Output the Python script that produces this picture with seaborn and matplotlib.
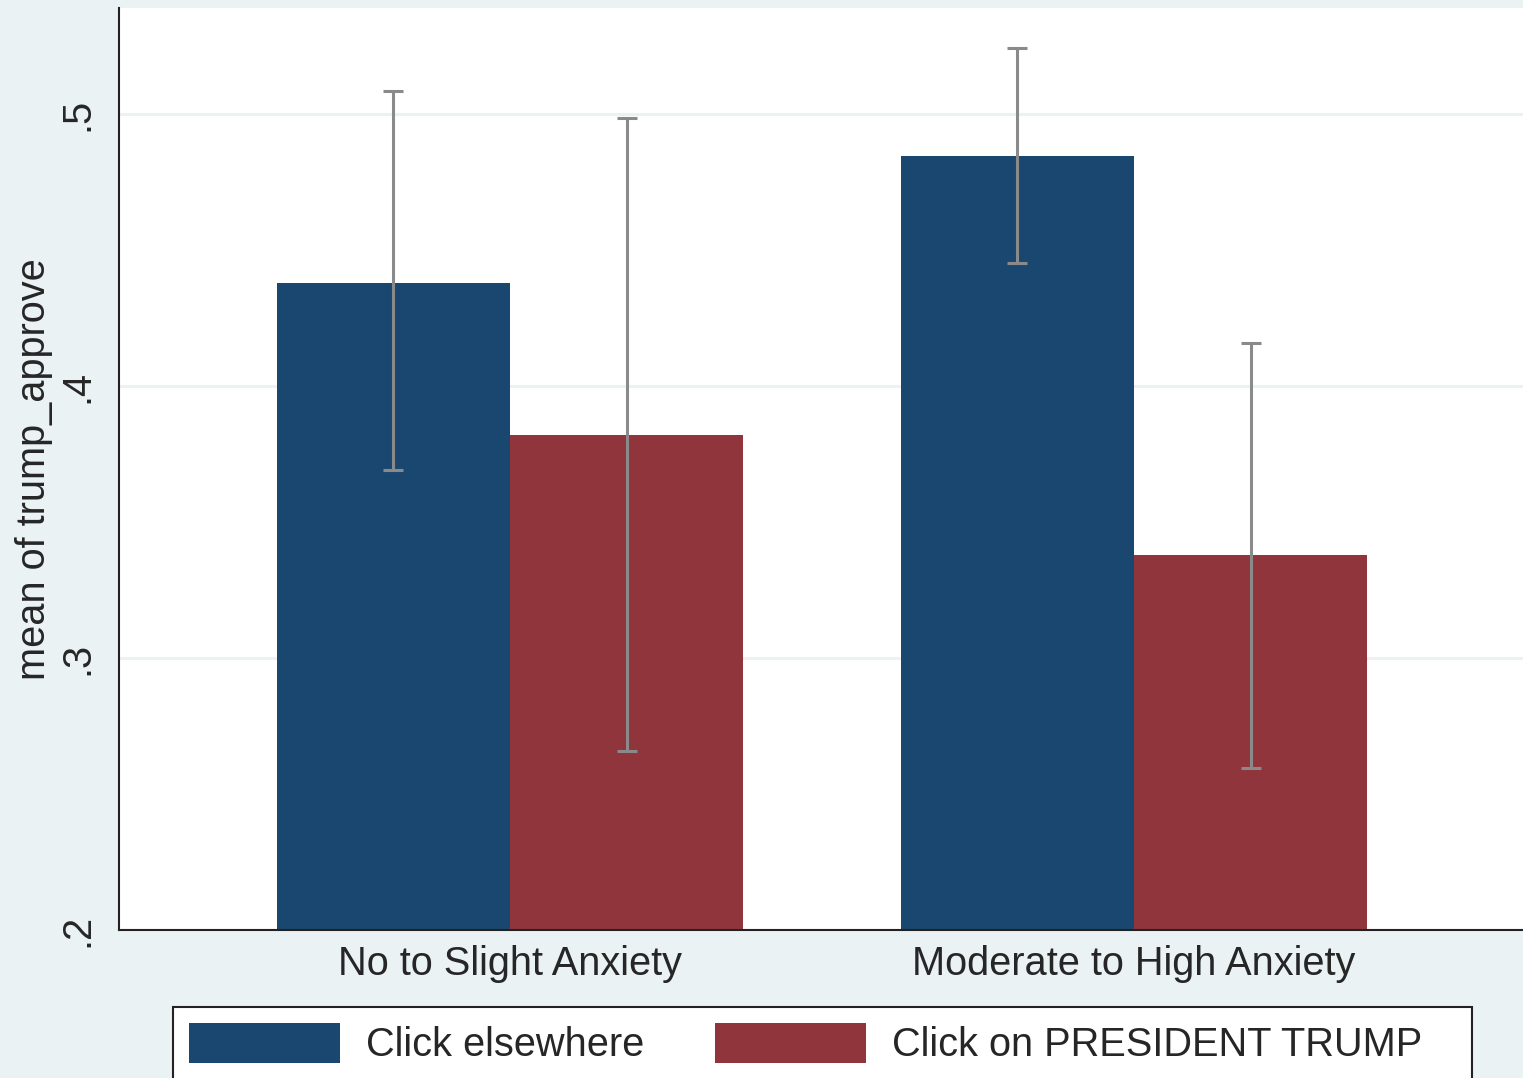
import matplotlib
matplotlib.use("Agg")
import matplotlib.pyplot as plt
from matplotlib.patches import Rectangle
import seaborn as sns
import pandas as pd

groups = ["No to Slight Anxiety", "Moderate to High Anxiety"]
conditions = ["Click elsewhere", "Click on PRESIDENT TRUMP"]
means_elsewhere = [0.438, 0.4845]
means_trump = [0.382, 0.338]
lo_elsewhere = [0.369, 0.4452]
hi_elsewhere = [0.5085, 0.5243]
lo_trump = [0.2658, 0.2596]
hi_trump = [0.4985, 0.4158]
yticks = [0.2, 0.3, 0.4, 0.5]
ytick_labels = [".2", ".3", ".4", ".5"]

rows = []
for i, g in enumerate(groups):
    rows.append(dict(group=g, condition=conditions[0], mean=means_elsewhere[i],
                     lo=lo_elsewhere[i], hi=hi_elsewhere[i]))
    rows.append(dict(group=g, condition=conditions[1], mean=means_trump[i],
                     lo=lo_trump[i], hi=hi_trump[i]))
df = pd.DataFrame(rows)

BG = "#EAF2F3"
BLUE = "#1A476F"
RED = "#90353B"
FONT = ["Liberation Sans", "DejaVu Sans"]

sns.set_style("white")
plt.rcParams["font.family"] = FONT

fig = plt.figure(figsize=(15.23, 10.78), dpi=100, facecolor=BG)
ax = fig.add_axes([119 / 1523, 1 - 930 / 1078, 1 - 119 / 1523, (930 - 8) / 1078])
ax.set_facecolor("white")

sns.barplot(data=df, x="group", y="mean", hue="condition", order=groups,
            hue_order=conditions, palette=[BLUE, RED], saturation=1,
            width=0.747, gap=0, errorbar=None, linewidth=0, ax=ax)

for cond, cont in zip(conditions, ax.containers):
    sub = df[df.condition == cond].set_index("group").loc[groups]
    for bar, (_, r) in zip(cont, sub.iterrows()):
        xc = bar.get_x() + bar.get_width() / 2
        ax.errorbar([xc], [r["mean"]], yerr=[[r["mean"] - r["lo"]], [r["hi"] - r["mean"]]],
                    fmt="none", ecolor="#8A8A8A", elinewidth=2.2, capsize=7.5,
                    capthick=2.2, zorder=5)

ax.set_ylim(0.2, 0.539)
ax.set_xlim(-0.6266, 1.6234)
ax.set_yticks(yticks)
ax.set_yticklabels(ytick_labels, rotation=90, va="center", fontsize=28.6)
ax.yaxis.grid(True, color=BG, linewidth=2.2, zorder=0)
ax.set_axisbelow(True)
ax.tick_params(axis="y", length=11.5, width=1.5, pad=5, color="#222222")
ax.tick_params(axis="x", length=0, pad=11, labelsize=28.6)
ax.set_xlabel("")
ax.set_ylabel("mean of trump_approve", fontsize=28.6)
ax.yaxis.set_label_coords(-0.047, 0.5)

for s in ["top", "right"]:
    ax.spines[s].set_visible(False)
for s in ["left", "bottom"]:
    ax.spines[s].set_color("#222222")
    ax.spines[s].set_linewidth(1.5)

handles, labels = ax.get_legend_handles_labels()
if ax.get_legend() is not None:
    ax.get_legend().remove()

# legend frame (Stata-style, wider than its contents on the right)
frame_top = 1 - 1007 / 1078
fig.patches.append(Rectangle((173 / 1523, -0.02), (1472 - 173) / 1523, frame_top + 0.02,
                             transform=fig.transFigure, facecolor="white",
                             edgecolor="#222222", linewidth=1.5, zorder=1))
leg = fig.legend(handles, labels, loc="upper left",
                 bbox_to_anchor=(173 / 1523, frame_top), ncol=2,
                 fontsize=28.6, frameon=False, handlelength=3.8, handleheight=1.18,
                 handletextpad=0.65, columnspacing=1.8, borderpad=0.4,
                 borderaxespad=0)
leg.set_zorder(2)

fig.savefig("out.png", dpi=100, facecolor=BG)
